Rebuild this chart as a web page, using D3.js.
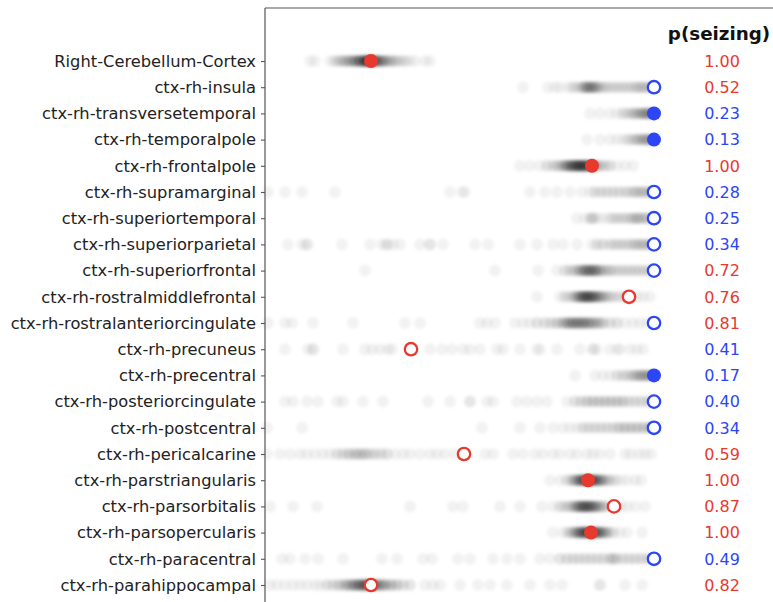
<!DOCTYPE html>
<html>
<head>
<meta charset="utf-8">
<script src="https://cdn.jsdelivr.net/npm/d3@7"></script>
<style>
  html, body { margin: 0; padding: 0; background: #fff; }
  svg { display: block; }
  text { font-family: "DejaVu Sans", sans-serif; }
</style>
</head>
<body>
<svg id="chart" width="773" height="602"></svg>
<script>
// Brain regions, top to bottom
const regions = [
  "Right-Cerebellum-Cortex", "ctx-rh-insula", "ctx-rh-transversetemporal",
  "ctx-rh-temporalpole", "ctx-rh-frontalpole", "ctx-rh-supramarginal",
  "ctx-rh-superiortemporal", "ctx-rh-superiorparietal", "ctx-rh-superiorfrontal",
  "ctx-rh-rostralmiddlefrontal", "ctx-rh-rostralanteriorcingulate", "ctx-rh-precuneus",
  "ctx-rh-precentral", "ctx-rh-posteriorcingulate", "ctx-rh-postcentral",
  "ctx-rh-pericalcarine", "ctx-rh-parstriangularis", "ctx-rh-parsorbitalis",
  "ctx-rh-parsopercularis", "ctx-rh-paracentral", "ctx-rh-parahippocampal"
];

// Probability that the region is seizing
const pSeizing = [1.00, 0.52, 0.23, 0.13, 1.00, 0.28, 0.25, 0.34, 0.72, 0.76, 0.81,
                  0.41, 0.17, 0.40, 0.34, 0.59, 1.00, 0.87, 1.00, 0.49, 0.82];

// Observed onset score per region
const observed = [106, 389, 389, 389, 327, 389, 389, 389, 389, 364, 389,
                  146, 389, 389, 389, 199, 323, 349, 326, 389, 106];

// Observed state: "seizing" or "healthy"; filled = state fixed in the data
const observedState = ["seizing", "healthy", "healthy", "healthy", "seizing", "healthy",
  "healthy", "healthy", "healthy", "seizing", "healthy", "seizing", "healthy", "healthy",
  "healthy", "seizing", "seizing", "seizing", "seizing", "healthy", "seizing"];
const observedFixed = [true, false, true, true, true, false, false, false, false, false, false,
  false, true, false, false, false, true, false, true, false, false];

// Posterior samples of the onset score, as [score, count]
const posteriorSamples = [
  [[45,1],[50,1],[65,1],[70,2],[75,3],[80,4],[85,5],[90,7],[95,10],[100,14],[104,14],[108,10],[112,8],[116,6],[120,5],[125,4],[130,3],[135,2],[140,2],[145,1],[150,1],[160,1],[165,1]],
  [[258,1],[283,1],[290,1],[295,1],[303,1],[308,2],[313,2],[318,4],[322,6],[326,6],[330,5],[334,3],[338,2],[342,2],[347,2],[352,2],[357,2],[362,2],[367,2],[372,3],[377,3],[382,3],[387,3]],
  [[325,1],[335,1],[345,1],[352,1],[358,2],[363,2],[368,3],[372,3],[376,4],[380,5],[384,5],[388,5]],
  [[322,1],[335,1],[345,1],[352,1],[358,1],[363,2],[368,2],[372,3],[376,3],[380,4],[384,4],[388,4]],
  [[255,1],[265,1],[275,1],[282,2],[288,2],[293,3],[298,4],[302,6],[306,8],[310,10],[314,12],[318,12],[322,10],[326,8],[330,5],[335,3],[340,2],[345,2],[352,1],[360,1],[368,1]],
  [[3,1],[20,1],[37,1],[70,1],[185,1],[197,1],[200,1],[265,1],[280,1],[292,1],[305,1],[317,1],[325,1],[330,2],[336,2],[342,2],[348,2],[354,2],[360,2],[365,2],[370,3],[375,3],[380,3],[385,3],[389,2]],
  [[312,1],[320,1],[326,3],[330,2],[336,1],[342,1],[347,2],[352,2],[357,2],[362,2],[367,3],[372,4],[377,3],[382,3],[387,2]],
  [[23,1],[37,1],[42,2],[77,1],[105,1],[117,1],[122,2],[128,1],[135,1],[155,1],[165,2],[178,1],[210,1],[223,1],[255,1],[272,1],[288,1],[298,1],[312,1],[327,1],[332,2],[338,2],[345,2],[350,2],[355,2],[360,2],[365,2],[370,3],[375,3],[380,3],[385,3]],
  [[100,1],[230,1],[273,1],[292,1],[300,2],[305,2],[310,3],[315,5],[320,8],[325,9],[330,8],[335,5],[340,3],[345,3],[350,2],[355,2],[360,2],[365,2],[370,2],[375,2],[380,2],[385,2]],
  [[272,1],[295,1],[300,2],[305,2],[310,4],[314,6],[318,9],[322,10],[326,9],[330,7],[334,5],[338,4],[343,3],[348,2],[354,2],[360,2],[366,1],[372,1],[378,1],[385,1]],
  [[3,1],[20,1],[27,1],[48,1],[88,1],[140,1],[155,1],[215,1],[222,1],[230,1],[250,1],[258,1],[265,1],[272,2],[280,2],[286,2],[292,3],[298,4],[303,6],[308,7],[313,7],[318,7],[323,6],[328,5],[333,4],[338,3],[345,2],[352,2],[360,1],[368,1],[375,1],[382,1]],
  [[20,1],[43,1],[48,2],[78,1],[100,1],[107,1],[115,1],[123,1],[127,1],[165,1],[177,1],[187,1],[198,1],[205,1],[215,1],[232,1],[238,1],[255,1],[272,1],[275,1],[292,1],[315,1],[328,2],[332,1],[345,1],[352,1],[355,1],[365,1],[372,1],[378,1]],
  [[310,1],[330,1],[338,1],[345,1],[352,2],[358,2],[363,2],[368,3],[372,3],[376,4],[380,4],[384,4],[388,4]],
  [[20,1],[28,1],[42,1],[53,1],[72,1],[78,1],[98,1],[118,1],[163,1],[185,1],[205,2],[222,1],[228,1],[252,1],[262,1],[272,1],[282,1],[302,1],[310,2],[316,2],[322,3],[328,3],[334,3],[340,3],[346,3],[352,3],[358,3],[364,2],[370,2],[376,2],[382,2],[387,2]],
  [[2,1],[37,1],[217,1],[255,1],[275,1],[288,1],[298,1],[305,1],[312,1],[318,2],[324,2],[330,2],[336,2],[342,2],[348,2],[354,3],[360,3],[366,3],[372,3],[378,3],[384,3],[388,2]],
  [[2,1],[15,1],[25,1],[35,1],[42,1],[50,1],[58,1],[65,1],[72,2],[78,2],[84,3],[90,3],[95,3],[100,3],[105,2],[110,2],[116,2],[122,2],[130,1],[138,1],[145,1],[155,1],[165,1],[172,1],[180,1],[190,1],[220,1],[228,1],[248,1],[258,1],[270,1],[278,1],[288,1],[295,1],[305,1],[312,1],[322,1],[328,1],[335,1],[345,1],[360,1],[366,1],[374,1],[380,1],[386,1]],
  [[285,1],[295,1],[302,2],[307,3],[311,5],[315,8],[319,10],[323,11],[327,10],[331,8],[335,6],[339,4],[344,3],[350,2],[356,1],[362,1],[370,1],[376,1]],
  [[5,1],[28,1],[52,1],[145,1],[188,1],[198,1],[235,1],[255,1],[277,1],[288,1],[295,2],[300,2],[305,3],[310,5],[314,7],[318,9],[322,9],[326,8],[330,6],[334,4],[338,3],[343,2],[350,2],[356,1],[362,1],[370,1],[380,1]],
  [[288,1],[298,1],[303,2],[307,3],[311,5],[315,8],[319,10],[323,11],[327,10],[331,9],[335,7],[339,5],[343,3],[348,2],[355,1],[362,1],[377,1]],
  [[17,1],[25,1],[40,1],[53,1],[78,1],[117,1],[132,1],[158,1],[167,1],[193,1],[205,1],[228,1],[242,1],[255,1],[275,1],[285,1],[295,2],[302,2],[308,2],[314,2],[320,2],[326,2],[332,2],[338,2],[344,2],[348,3],[352,2],[358,2],[364,2],[370,2],[376,2],[382,2],[387,1]],
  [[5,1],[12,1],[20,1],[28,1],[35,1],[42,1],[50,1],[55,1],[62,2],[68,2],[74,3],[80,4],[85,5],[90,7],[95,9],[100,11],[105,10],[110,8],[115,6],[120,5],[126,4],[132,3],[138,2],[145,2],[160,1],[168,1],[175,1],[195,1],[213,1],[225,1],[242,1],[265,1],[285,1],[297,1],[335,2],[360,1],[377,1]]
];

const colors = { seizing: "#e8392f", healthy: "#2d46f5" };

const svg = d3.select("#chart");
const W = 773, H = 602;
svg.append("rect").attr("width", W).attr("height", H).attr("fill", "#fff");

const plotLeft = 265, plotTop = 8;

const x = d3.scaleLinear().domain([0, 390]).range([265, 655]);
const y = d3.scalePoint().domain(regions).range([61, 585]);

// soft edge for the sample cloud
const defs = svg.append("defs");
defs.append("filter").attr("id", "soft")
  .attr("x", "-5%").attr("y", "-50%").attr("width", "110%").attr("height", "200%")
  .append("feGaussianBlur").attr("stdDeviation", 1.5);

// Sample cloud
const samples = [];
posteriorSamples.forEach((row, i) => {
  row.forEach(([v, n]) => {
    for (let k = 0; k < n; k++) samples.push({ region: regions[i], v });
  });
});
svg.append("g").attr("filter", "url(#soft)")
  .selectAll("circle").data(samples).join("circle")
  .attr("cx", d => x(d.v))
  .attr("cy", d => y(d.region))
  .attr("r", 6)
  .attr("fill", "#000")
  .attr("fill-opacity", 0.05);

// Observed markers
const obs = regions.map((r, i) => ({ region: r, v: observed[i], state: observedState[i], fixed: observedFixed[i] }));
svg.append("g").selectAll("circle").data(obs).join("circle")
  .attr("cx", d => x(d.v))
  .attr("cy", d => y(d.region))
  .attr("r", d => d.fixed ? 7 : 6.2)
  .attr("fill", d => d.fixed ? colors[d.state] : "#fff")
  .attr("stroke", d => d.fixed ? "none" : colors[d.state])
  .attr("stroke-width", 2.3);

// Frame: left spine and top edge
const frame = svg.append("g").attr("stroke", "#555").attr("stroke-width", 1.2).attr("fill", "none");
frame.append("line").attr("x1", plotLeft).attr("x2", plotLeft).attr("y1", plotTop).attr("y2", H + 5);
frame.append("line").attr("x1", plotLeft).attr("x2", W + 5).attr("y1", plotTop).attr("y2", plotTop);

// Region axis
const yAxis = d3.axisLeft(y).tickSize(4).tickPadding(5);
const ag = svg.append("g").attr("transform", `translate(${plotLeft},0)`).call(yAxis);
ag.select(".domain").remove();
ag.selectAll(".tick line").attr("stroke", "#555").attr("stroke-width", 1.1);
ag.selectAll(".tick text")
  .attr("font-family", "DejaVu Sans, sans-serif")
  .attr("font-size", 16.3)
  .attr("fill", "#222");

// p(seizing) column
svg.append("text")
  .attr("x", 719).attr("y", 40)
  .attr("text-anchor", "middle")
  .attr("font-size", 18.3).attr("font-weight", "bold")
  .attr("fill", "#111")
  .text("p(seizing)");

svg.append("g").selectAll("text").data(regions).join("text")
  .attr("x", 722)
  .attr("y", d => y(d))
  .attr("dy", "0.36em")
  .attr("text-anchor", "middle")
  .attr("font-size", 16)
  .attr("fill", (d, i) => pSeizing[i] > 0.5 ? colors.seizing : colors.healthy)
  .text((d, i) => d3.format(".2f")(pSeizing[i]));
</script>
</body>
</html>
